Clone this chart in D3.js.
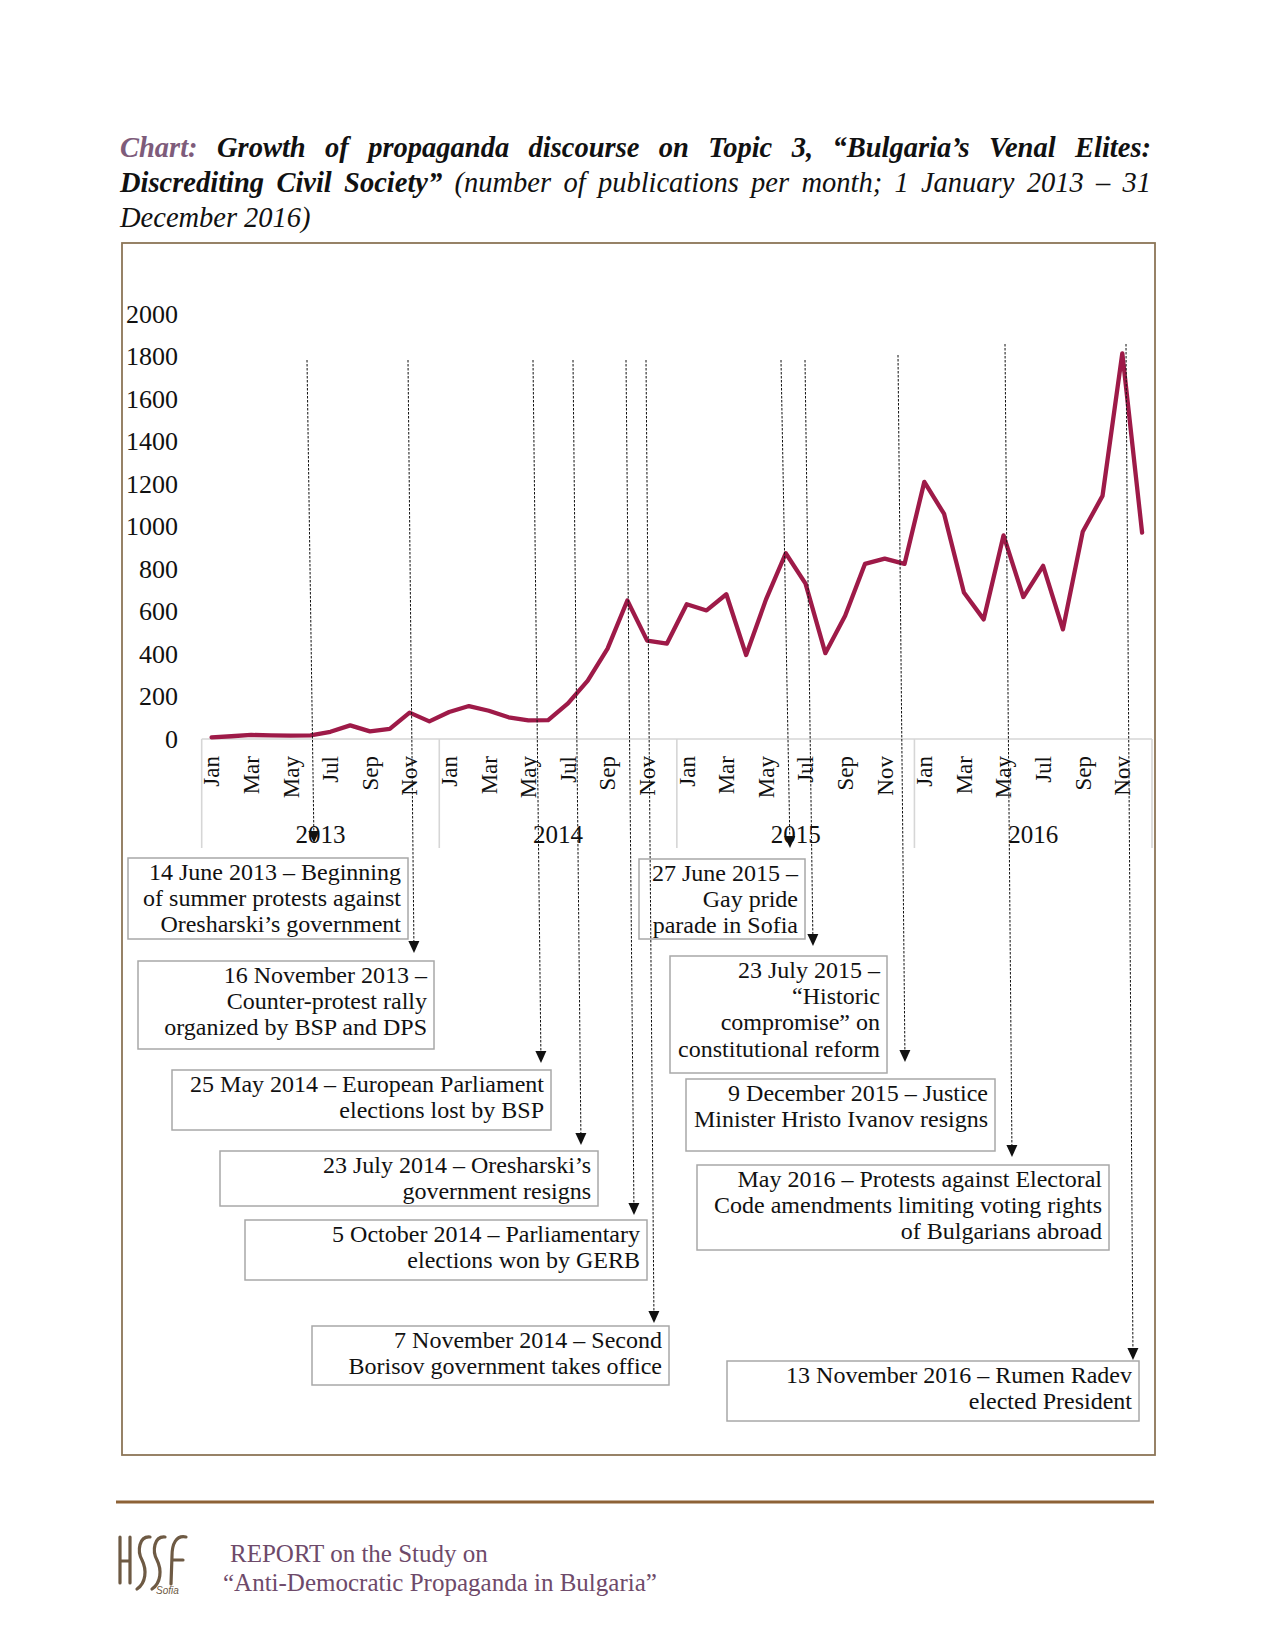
<!DOCTYPE html>
<html>
<head>
<meta charset="utf-8">
<script src="https://cdn.jsdelivr.net/npm/d3@7"></script>
<style>
  body { margin: 0; background: #fff; }
</style>
</head>
<body>
<div id="chart"></div>
<script>
// ---- data ----
const months = ["Jan","Feb","Mar","Apr","May","Jun","Jul","Aug","Sep","Oct","Nov","Dec"];
const years = ["2013","2014","2015","2016"];
const pubs2013 = [8, 13, 19, 17, 16, 17, 34, 64, 36, 48, 124, 83];
const pubs2014 = [127, 155, 133, 102, 88, 89, 168, 275, 425, 652, 463, 449];
const pubs2015 = [634, 605, 681, 395, 656, 874, 731, 404, 580, 824, 849, 824];
const pubs2016 = [1210, 1059, 689, 563, 958, 668, 815, 516, 975, 1144, 1815, 971];
const yTicks = [0, 200, 400, 600, 800, 1000, 1200, 1400, 1600, 1800, 2000];

const eventLabels = [
  ["14 June 2013 – Beginning", "of summer protests against", "Oresharski’s government"],
  ["16 November 2013 –", "Counter-protest rally", "organized by BSP and DPS"],
  ["25 May 2014 – European Parliament", "elections lost by BSP"],
  ["23 July 2014 – Oresharski’s", "government resigns"],
  ["5 October 2014 – Parliamentary", "elections won by GERB"],
  ["7 November 2014 – Second", "Borisov government takes office"],
  ["27 June 2015 –", "Gay pride", "parade in Sofia"],
  ["23 July 2015 –", "“Historic", "compromise” on", "constitutional reform"],
  ["9 December 2015 – Justice", "Minister Hristo Ivanov resigns"],
  ["May 2016 – Protests against Electoral", "Code amendments limiting voting rights", "of Bulgarians abroad"],
  ["13 November 2016 – Rumen Radev", "elected President"]
];

// callout placement (hand placed, as in the report): line top, arrow tip, box [l,t,r,b]
const callouts = [
  {top: [307, 360], tip: [314, 843], box: [128, 858, 408, 939]},
  {top: [408, 360], tip: [414, 953], box: [138, 961, 434, 1049]},
  {top: [533, 360], tip: [541, 1063], box: [172, 1070, 551, 1130]},
  {top: [573, 360], tip: [581, 1145], box: [220, 1151, 598, 1206]},
  {top: [626, 360], tip: [634, 1215], box: [245, 1220, 647, 1280]},
  {top: [646, 360], tip: [654, 1323], box: [312, 1326, 669, 1385]},
  {top: [781, 360], tip: [790, 848], box: [639, 859, 805, 939]},
  {top: [805, 360], tip: [813, 946], box: [670, 956, 887, 1073]},
  {top: [898, 355], tip: [905, 1062], box: [686, 1079, 995, 1151]},
  {top: [1005, 344], tip: [1012, 1157], box: [697, 1165, 1109, 1250]},
  {top: [1126, 344], tip: [1133, 1360], box: [727, 1361, 1139, 1421]}
];

const titleLines = [
  [{t: "Chart:", w: "bold", c: "#7e5c7b"},
   {t: "Growth of propaganda discourse on Topic 3, “Bulgaria’s Venal Elites:", w: "bold"}],
  [{t: "Discrediting Civil Society”", w: "bold"},
   {t: "(number of publications per month; 1 January 2013 – 31", w: "normal"}],
  [{t: "December 2016)", w: "normal"}]
];

const values = pubs2013.concat(pubs2014, pubs2015, pubs2016);

// ---- svg ----
const W = 1275, H = 1650;
const serif = "'Liberation Serif', 'DejaVu Serif', serif";
const svg = d3.select("#chart").append("svg")
    .attr("width", W)
    .attr("height", H)
    .style("font-family", serif);

// title, justified like the report
const titleLeft = 120, titleRight = 1151;
titleLines.forEach(function(line, li) {
  const baseY = 157 + li * 35;
  let words = [];
  line.forEach(function(seg) {
    seg.t.split(" ").forEach(function(w) { words.push({t: w, w: seg.w, c: seg.c || "#111"}); });
  });
  const g = svg.append("g");
  const nodes = words.map(function(d) {
    return g.append("text")
      .attr("y", baseY)
      .style("font-size", "28.5px")
      .style("font-style", "italic")
      .style("font-weight", d.w)
      .attr("fill", d.c)
      .text(d.t);
  });
  const widths = nodes.map(function(n) { return n.node().getComputedTextLength(); });
  const total = d3.sum(widths);
  const last = li === titleLines.length - 1;
  const gap = last ? 7 : (titleRight - titleLeft - total) / (words.length - 1);
  let cx = titleLeft;
  nodes.forEach(function(n, i) {
    n.attr("x", cx);
    cx += widths[i] + gap;
  });
});

// frame round the chart
svg.append("rect")
    .attr("x", 122).attr("y", 243)
    .attr("width", 1155 - 122).attr("height", 1455 - 243)
    .attr("fill", "none")
    .attr("stroke", "#8c7557")
    .attr("stroke-width", 1.8);

// scales
const x = d3.scalePoint()
    .domain(d3.range(values.length))
    .range([201.7, 1152])
    .padding(0.5);
const y = d3.scaleLinear()
    .domain([0, 2000])
    .range([739, 314]);
const step = x.step();

// y axis labels
const yAxis = svg.append("g")
    .attr("transform", "translate(178,0)")
    .call(d3.axisLeft(y).tickValues(yTicks).tickSize(0).tickPadding(0).tickFormat(d3.format("d")));
yAxis.select(".domain").remove();
yAxis.selectAll("text")
    .style("font-family", serif)
    .style("font-size", "26px")
    .attr("fill", "#111");

// category axis
const axisG = svg.append("g");
axisG.append("line")
    .attr("x1", x(0) - step / 2).attr("x2", x(values.length - 1) + step / 2)
    .attr("y1", y(0)).attr("y2", y(0))
    .attr("stroke", "#d6d6d6").attr("stroke-width", 1.6);

axisG.selectAll(".sep")
    .data(d3.range(years.length + 1))
    .enter().append("line")
    .attr("class", "sep")
    .attr("x1", function(d) { return d < years.length ? x(d * 12) - step / 2 : x(values.length - 1) + step / 2; })
    .attr("x2", function(d) { return d < years.length ? x(d * 12) - step / 2 : x(values.length - 1) + step / 2; })
    .attr("y1", y(0)).attr("y2", 848)
    .attr("stroke", "#d6d6d6").attr("stroke-width", 1.6);

axisG.selectAll(".mlab")
    .data(d3.range(values.length).filter(function(i) { return i % 2 === 0; }))
    .enter().append("text")
    .attr("class", "mlab")
    .attr("transform", function(i) { return "translate(" + x(i) + ",756) rotate(-90)"; })
    .attr("dy", "0.34em")
    .attr("text-anchor", "end")
    .style("font-size", "23px")
    .attr("fill", "#111")
    .text(function(i) { return months[i % 12]; });

axisG.selectAll(".ylab")
    .data(years)
    .enter().append("text")
    .attr("class", "ylab")
    .attr("x", function(d, i) { return (x(i * 12) + x(i * 12 + 11)) / 2; })
    .attr("y", 843)
    .attr("text-anchor", "middle")
    .style("font-size", "25px")
    .attr("fill", "#111")
    .text(function(d) { return d; });

// the series
const line = d3.line()
    .x(function(d, i) { return x(i); })
    .y(function(d) { return y(d); });

svg.append("path")
    .datum(values)
    .attr("d", line)
    .attr("fill", "none")
    .attr("stroke", "#9e1a48")
    .attr("stroke-width", 4.3)
    .attr("stroke-linejoin", "round")
    .attr("stroke-linecap", "round");

// callouts: dotted arrows + boxes
const notes = svg.append("g");
callouts.forEach(function(c, k) {
  const dx = c.tip[0] - c.top[0], dy = c.tip[1] - c.top[1];
  const len = Math.sqrt(dx * dx + dy * dy);
  const ux = dx / len, uy = dy / len;
  const head = 12, half = 5.5;
  const bx = c.tip[0] - ux * head, by = c.tip[1] - uy * head;

  notes.append("line")
      .attr("x1", c.top[0]).attr("y1", c.top[1])
      .attr("x2", bx).attr("y2", by)
      .attr("stroke", "#111")
      .attr("stroke-width", 1)
      .attr("stroke-dasharray", "2.5,1.5");

  notes.append("path")
      .attr("d", "M" + c.tip[0] + "," + c.tip[1] +
                 "L" + (bx - uy * half) + "," + (by + ux * half) +
                 "L" + (bx + uy * half) + "," + (by - ux * half) + "Z")
      .attr("fill", "#111");

  const b = c.box;
  notes.append("rect")
      .attr("x", b[0]).attr("y", b[1])
      .attr("width", b[2] - b[0]).attr("height", b[3] - b[1])
      .attr("fill", "none")
      .attr("stroke", "#a8a8a8")
      .attr("stroke-width", 1.5);

  notes.append("text")
      .attr("text-anchor", "end")
      .style("font-size", "24px")
      .attr("fill", "#111")
      .selectAll("tspan")
      .data(eventLabels[k])
      .enter().append("tspan")
      .attr("x", b[2] - 7)
      .attr("y", function(d, i) { return b[1] + 22 + i * 26.2; })
      .text(function(d) { return d; });
});

// footer
svg.append("line")
    .attr("x1", 116).attr("x2", 1154)
    .attr("y1", 1502).attr("y2", 1502)
    .attr("stroke", "#8d6236")
    .attr("stroke-width", 3);

// HSSF logo, drawn as strokes
const logo = svg.append("g")
    .attr("fill", "none")
    .attr("stroke", "#6e5a44")
    .attr("stroke-width", 3.2)
    .attr("stroke-linecap", "round");
logo.append("path").attr("d", "M120,1537 L120,1583 M130,1537 L130,1583 M120,1561 L130,1561");
logo.append("path").attr("d", "M150,1537 C139,1536 137,1551 142,1560 C147,1570 146,1583 137,1589");
logo.append("path").attr("d", "M165,1537 C154,1536 152,1551 157,1560 C162,1570 161,1583 152,1589");
logo.append("path").attr("d", "M186,1537 C176,1535 172,1544 172,1556 L171,1584 M172,1560 L183,1560");
svg.append("text")
    .attr("x", 156).attr("y", 1594)
    .style("font-family", "'Liberation Sans Narrow', 'Liberation Sans', sans-serif")
    .style("font-size", "10px")
    .style("font-style", "italic")
    .attr("fill", "#6e5a44")
    .text("Sofia");

svg.append("text")
    .attr("x", 230).attr("y", 1562)
    .style("font-size", "25px")
    .attr("fill", "#6e4a6a")
    .text("REPORT on the Study on");
svg.append("text")
    .attr("x", 223).attr("y", 1591)
    .style("font-size", "25px")
    .attr("fill", "#6e4a6a")
    .text("“Anti-Democratic Propaganda in Bulgaria”");
</script>
</body>
</html>
